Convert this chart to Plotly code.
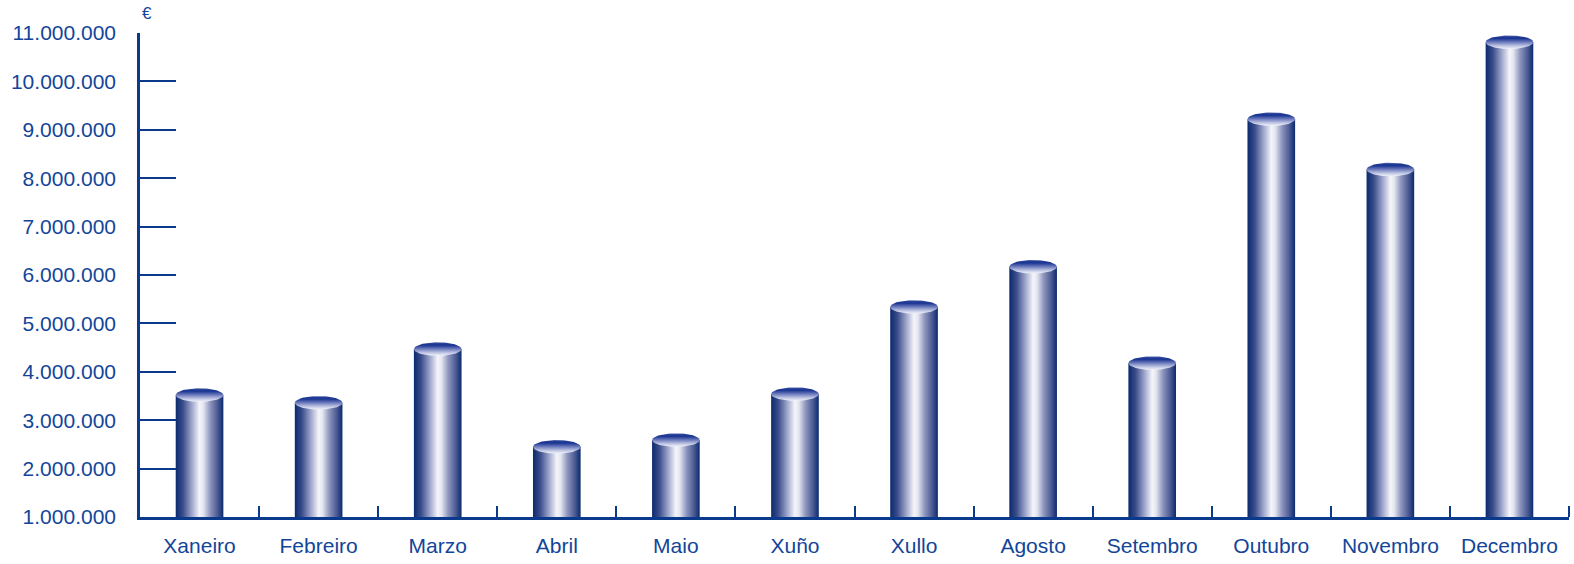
import numpy as np
import plotly.graph_objects as go

months = ["Xaneiro", "Febreiro", "Marzo", "Abril", "Maio", "Xuño",
          "Xullo", "Agosto", "Setembro", "Outubro", "Novembro", "Decembro"]
values = [3520000, 3360000, 4470000, 2450000, 2590000, 3540000,
          5340000, 6170000, 4180000, 9220000, 8180000, 10810000]
y_ticks = list(range(1_000_000, 11_000_001, 1_000_000))
y_tick_labels = [f"{v:,}".replace(",", ".") for v in y_ticks]
unit_label = "€"

NAVY = "#0b3a8c"
TEXT = "#124599"
FONT = "Liberation Sans, Arial, sans-serif"
BASE = y_ticks[0]
HALF_W = 0.2
CAP_RY = 140000

body_cs = [[0.0, "#0a2a6e"], [0.15, "#3a4c8a"], [0.35, "#a5acd0"],
           [0.5, "#f5f5fa"], [0.58, "#e4e6f0"], [0.72, "#8f97bf"],
           [0.88, "#4b5a93"], [1.0, "#0a2a6e"]]
cap_cs = [[0.0, "#f0f1f8"], [0.2, "#c4cae6"], [0.5, "#6e7cbd"],
          [0.78, "#1a3592"], [0.9, "#233d96"], [1.0, "#5d6db0"]]

fig = go.Figure()
theta = np.linspace(0, 2 * np.pi, 90)
for i, v in enumerate(values):
    xs = [i - HALF_W, i + HALF_W, i + HALF_W, i - HALF_W, i - HALF_W]
    ys = [BASE, BASE, v, v, BASE]
    fig.add_trace(go.Scatter(
        x=xs, y=ys, fill="toself", mode="lines",
        line=dict(width=0, color="rgba(0,0,0,0)"),
        fillgradient=dict(type="horizontal", colorscale=body_cs),
        hoverinfo="skip", showlegend=False))
    cx = i + HALF_W * np.cos(theta)
    cy = v + CAP_RY * np.sin(theta)
    fig.add_trace(go.Scatter(
        x=cx, y=cy, fill="toself", mode="lines",
        line=dict(width=0, color="rgba(0,0,0,0)"),
        fillgradient=dict(type="vertical", colorscale=cap_cs),
        hoverinfo="skip", showlegend=False))

fig.update_layout(
    width=1574, height=564,
    margin=dict(l=140, r=5, t=33, b=47),
    paper_bgcolor="white", plot_bgcolor="white",
    font=dict(family=FONT, size=21, color=TEXT),
    showlegend=False,
    xaxis=dict(
        range=[-0.5, len(months) - 0.5], automargin=False,
        tickmode="array", tickvals=list(range(len(months))), ticktext=months,
        ticks="", showgrid=False, zeroline=False,
        showline=True, linecolor=NAVY, linewidth=2.5,
        ticklabelstandoff=8,
        minor=dict(tickmode="array",
                   tickvals=[k + 0.5 for k in range(len(months))],
                   ticks="inside", ticklen=11, tickwidth=2, tickcolor=NAVY,
                   showgrid=False),
    ),
    yaxis=dict(
        range=[y_ticks[0], y_ticks[-1]], automargin=False,
        tickmode="array", tickvals=y_ticks, ticktext=y_tick_labels,
        ticks="inside", ticklen=36, tickwidth=2, tickcolor=NAVY,
        showgrid=False, zeroline=False,
        showline=True, linecolor=NAVY, linewidth=2.5,
        ticklabelstandoff=17,
    ),
    annotations=[dict(text=unit_label, xref="paper", yref="paper",
                      x=0.005, y=1.04, xanchor="center", yanchor="middle",
                      showarrow=False, font=dict(size=17, color=TEXT))],
)

fig.write_html("out.html", config={"displayModeBar": False},
               post_script="document.body.style.margin='0';document.body.style.overflow='hidden';")
